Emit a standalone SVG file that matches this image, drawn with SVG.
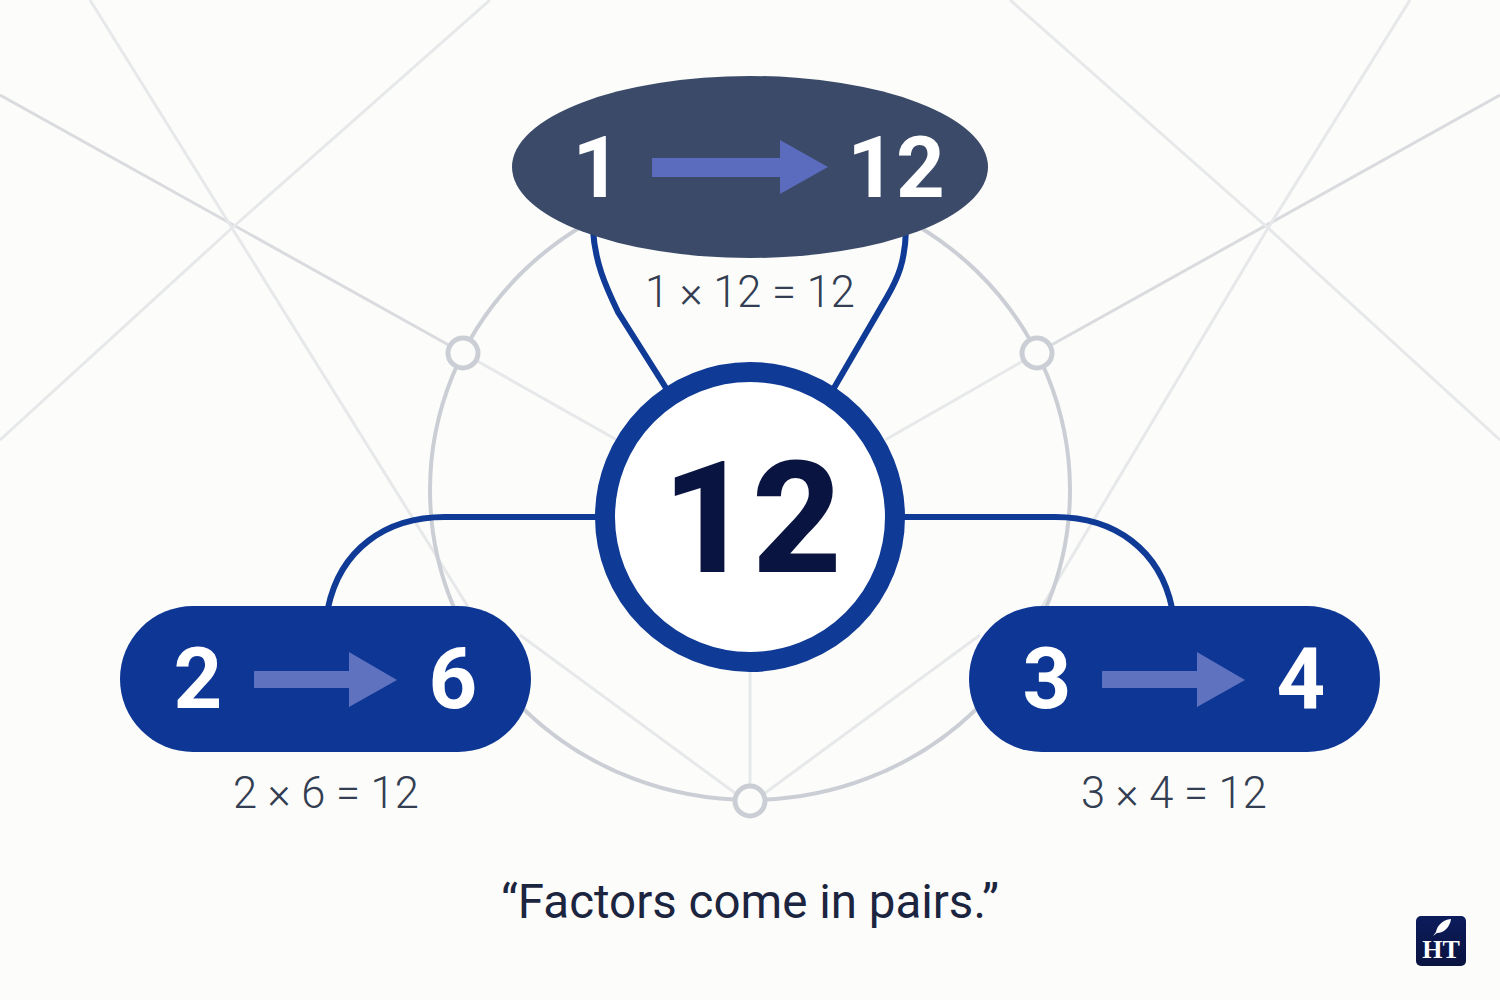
<svg xmlns="http://www.w3.org/2000/svg" width="1500" height="1000" viewBox="0 0 1500 1000">
<defs>
<style>
.bg{stroke:#e6e8ea;stroke-width:3;fill:none}
.bg2{stroke:#d9dbdf;stroke-width:3;fill:none}
.ring{stroke:#cbcfd5;stroke-width:4;fill:none}
.hub{fill:#fcfcfa;stroke:#cbcfd5;stroke-width:5}
.conn{stroke:#0f3a96;stroke-width:6;fill:none}
.num{font-family:Roboto,"Liberation Sans",sans-serif;font-weight:700;fill:#fff;text-anchor:middle;font-size:85px}
.eq{font-family:Roboto,"Liberation Sans",sans-serif;font-weight:300;fill:#333e52;text-anchor:middle;font-size:43.5px}
</style>
<linearGradient id="logo" x1="0" y1="0" x2="0" y2="1"><stop offset="0" stop-color="#0c1c5c"/><stop offset="1" stop-color="#0a1440"/></linearGradient>
</defs>
<rect width="1500" height="1000" fill="#fcfcfa"/>
<g id="background">
<path class="bg2" d="M0 95L463 353M1500 95L1037 353"/>
<path class="bg" d="M463 353L617 440M90 0L232 228L470 610M490 0L232 228L0 440M1037 353L885 440M1410 0L1268 228L1040 610M1010 0L1268 228L1500 440M750 670V790M520 635L735 793M980 635L765 793"/>
<ellipse class="ring" cx="750" cy="490" rx="320" ry="310"/>
<circle class="hub" cx="463" cy="353" r="15"/>
<circle class="hub" cx="1037" cy="353" r="15"/>
<circle class="hub" cx="750" cy="801" r="15"/>
</g>
<g id="connectors">
<path class="conn" d="M593 230C595 262 605 285 618 312L666 388"/>
<path class="conn" d="M906 230C905 262 898 278 887 297L834 388"/>
<path class="conn" d="M600 517H445C385 517 340 550 328 608"/>
<path class="conn" d="M900 517H1055C1115 517 1160 550 1172 608"/>
</g>
<g id="node-1-12">
<ellipse cx="750" cy="167" rx="238" ry="91" fill="#3a4a68"/>
<text class="num" x="597" y="197">1</text>
<path d="M652 158H780V140L828 167L780 194V177H652Z" fill="#5b6bbd"/>
<text class="num" x="896" y="197">12</text>
</g>
<g id="label-1-12"><text class="eq" x="750" y="307">1 × 12 = 12</text></g>
<g id="node-12">
<circle cx="750" cy="517" r="145" fill="#fff" stroke="#0f3a96" stroke-width="20"/>
<text x="752" y="572" font-family="Roboto,'Liberation Sans',sans-serif" font-weight="800" font-size="156" fill="#0a1440" text-anchor="middle">12</text>
</g>
<g id="node-2-6">
<rect x="120" y="606" width="411" height="146" rx="73" fill="#0d3695"/>
<text class="num" x="198" y="708">2</text>
<path d="M254 671H349V652L397 680L349 707V688H254Z" fill="#5f72c0"/>
<text class="num" x="453" y="708">6</text>
</g>
<g id="label-2-6"><text class="eq" x="326" y="808">2 × 6 = 12</text></g>
<g id="node-3-4">
<rect x="969" y="606" width="411" height="146" rx="73" fill="#0d3695"/>
<text class="num" x="1047" y="708">3</text>
<path d="M1102 671H1197V652L1245 680L1197 707V688H1102Z" fill="#5f72c0"/>
<text class="num" x="1301" y="708">4</text>
</g>
<g id="label-3-4"><text class="eq" x="1174" y="808">3 × 4 = 12</text></g>
<g id="caption"><text x="750" y="918" font-family="Roboto,'Liberation Sans',sans-serif" font-size="47.5" fill="#1c2540" text-anchor="middle">“Factors come in pairs.”</text></g>
<g id="logo-badge">
<rect x="1416" y="916" width="50" height="50" rx="5" fill="url(#logo)"/>
<path d="M1451 919C1442 920 1437 926 1436 932L1433 936L1437 933C1444 933 1450 927 1451 919Z" fill="#fff"/>
<text x="1441" y="958" font-family="'Liberation Serif',serif" font-weight="700" font-size="26" fill="#fff" text-anchor="middle">HT</text>
</g>
</svg>
